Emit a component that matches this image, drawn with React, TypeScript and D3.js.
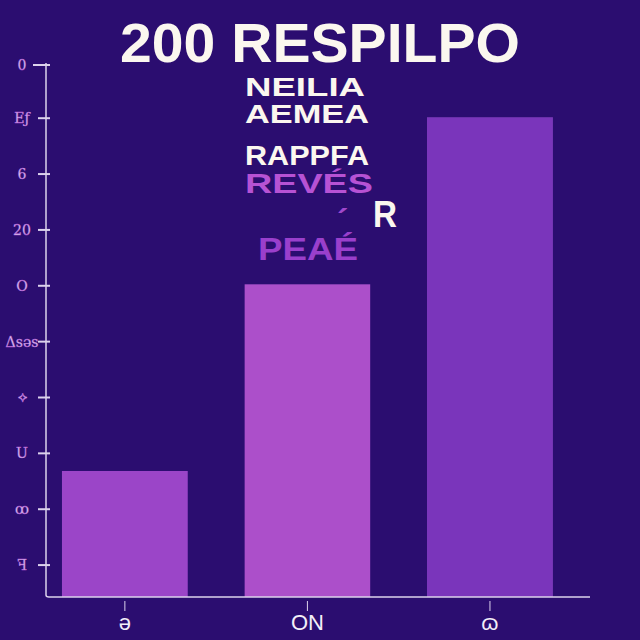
import React from "react";
import * as d3 from "d3";

const categories = ["ə", "ON", "ɷ"];
const values = [23.7, 58.8, 90.2];
const barColors = ["#9a3ec6", "#ad4cc8", "#7228b6"];
const tickValues = [6, 16.5, 27, 37.5, 48, 58.5, 69, 79.5, 90, 100];
const tickLabels = ["ꟻ", "ꝏ", "U", "⟡", "Δsəs", "O", "20", "6", "Eƒ", "0"];
const title = "200 RESPILPO";
const notes = [
  { text: "NEILIA", color: "#fbf7ef" },
  { text: "AEMEA", color: "#fbf7ef" },
  { text: "RAPPFA", color: "#fbf7ef" },
  { text: "REVÉS", color: "#b752d4" },
  { text: "R", color: "#fbf7ef" },
  { text: "PEAÉ", color: "#9a3fcc" },
];

const W = 640, H = 640;
const axisX = 46, axisBottom = 597, axisTop = 65, axisRight = 590;

export default function App() {
  const x = d3.scaleBand<string>().domain(categories).range([axisX, axisRight]).paddingInner(0.31).paddingOuter(0.145).align(0.3);
  const y = d3.scaleLinear().domain([0, 100]).range([axisBottom, axisTop]);
  const notePos = [
    { x: 245, y: 96, len: 120, size: 25 },
    { x: 245, y: 123, len: 124, size: 25 },
    { x: 245, y: 165, len: 124, size: 28 },
    { x: 245, y: 193, len: 128, size: 28 },
    { x: 373, y: 227, len: 24, size: 36 },
    { x: 258, y: 260, len: 100, size: 31 },
  ];
  return (
    <svg width={W} height={H} style={{ position: "absolute", left: 0, top: 0 }}>
      <defs>
        <filter id="grain" x="0" y="0" width="100%" height="100%">
          <feTurbulence type="fractalNoise" baseFrequency="1.0" numOctaves="1" seed="3" result="noise" />
          <feColorMatrix in="noise" type="matrix"
            values="0 0 0 0 0.36  0 0 0 0 0.12  0 0 0 0 0.66  3.0 0 0 0 -1.35" result="dark" />
          <feTurbulence type="fractalNoise" baseFrequency="1.0" numOctaves="1" seed="11" result="noise2" />
          <feColorMatrix in="noise2" type="matrix"
            values="0 0 0 0 0.82  0 0 0 0 0.34  0 0 0 0 0.84  2.6 0 0 0 -1.35" result="light" />
          <feMerge result="m">
            <feMergeNode in="SourceGraphic" />
            <feMergeNode in="dark" />
            <feMergeNode in="light" />
          </feMerge>
          <feComposite in="m" in2="SourceGraphic" operator="in" />
        </filter>
      </defs>
      <rect x={0} y={0} width={W} height={H} fill="#2b0d70" />
      <text x={120} y={62} fill="#fbf7ef" fontFamily="Liberation Sans, Arial, sans-serif" fontWeight="bold"
        fontSize={55} textLength={400} lengthAdjust="spacingAndGlyphs">{title}</text>
      {notes.map((n, i) => (
        <text key={i} x={notePos[i].x} y={notePos[i].y} fill={n.color} fontFamily="Liberation Sans, Arial, sans-serif"
          fontWeight="bold" fontSize={notePos[i].size} textLength={notePos[i].len} lengthAdjust="spacingAndGlyphs">{n.text}</text>
      ))}
      <text x={337} y={232} fill="#a048cc" fontFamily="Liberation Sans, Arial, sans-serif" fontWeight="bold" fontSize={34}>´</text>
      {categories.map((c, i) => (
        <rect key={c} x={x(c)} y={y(values[i])} width={x.bandwidth()} height={axisBottom - y(values[i])}
          fill={barColors[i]} filter="url(#grain)" />
      ))}
      <path d={`M${axisX},${axisTop - 2} L${axisX},${axisBottom - 2} Q${axisX},${axisBottom} ${axisX + 3},${axisBottom} L${axisRight},${axisBottom}`}
        fill="none" stroke="#dcd2ec" strokeWidth={1.5} />
      {tickValues.map((t, i) => (
        <g key={t} transform={`translate(0,${y(t)})`}>
          <line x1={i === tickValues.length - 1 ? 33 : 38} x2={axisX + 4} stroke="#dcd2ec" strokeWidth={2} />
          <text x={22} dy="0.35em" textAnchor="middle" fill="#d8c4ee" stroke="#b055d0" strokeWidth={0.4}
            fontFamily="DejaVu Serif, serif" fontSize={14}>{tickLabels[i]}</text>
        </g>
      ))}
      {categories.map((c) => (
        <g key={c} transform={`translate(${(x(c) as number) + x.bandwidth() / 2},${axisBottom})`}>
          <line y1={4} y2={14} stroke="#dcd2ec" strokeWidth={1} />
          <text y={33} textAnchor="middle" fill="#f3eef8" fontFamily="Liberation Sans Narrow, Liberation Sans, sans-serif"
            fontSize={22}>{c}</text>
        </g>
      ))}
    </svg>
  );
}
